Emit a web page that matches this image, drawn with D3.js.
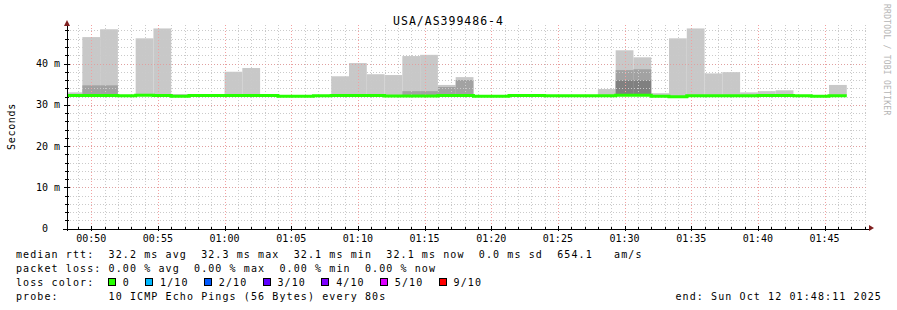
<!DOCTYPE html>
<html>
<head>
<meta charset="utf-8">
<script src="https://cdn.jsdelivr.net/npm/d3@7"></script>
<style>
  html, body { margin: 0; padding: 0; background: #fff; }
  svg { display: block; font-family: "DejaVu Sans Mono", monospace; }
  text { white-space: pre; }
</style>
</head>
<body>
<div id="chart"></div>
<script>
// ---- data ----
const chartTitle = 'USA/AS399486-4';
const startTime = '00:48:11';
const endTime   = '01:48:11';

// 80 s probe slots (start time of each slot); last slot ends at slotEnd
const slotStarts = [
  '00:48:00','00:49:20','00:50:40','00:52:00','00:53:20','00:54:40','00:56:00','00:57:20','00:58:40','01:00:00',
  '01:01:20','01:02:40','01:04:00','01:05:20','01:06:40','01:08:00','01:09:20','01:10:40','01:12:00','01:13:20',
  '01:14:40','01:16:00','01:17:20','01:18:40','01:20:00','01:21:20','01:22:40','01:24:00','01:25:20','01:26:40',
  '01:28:00','01:29:20','01:30:40','01:32:00','01:33:20','01:34:40','01:36:00','01:37:20','01:38:40','01:40:00',
  '01:41:20','01:42:40','01:44:00','01:45:20'
];
const slotEnd = '01:46:40';

// median rtt per slot (ms)
const medianMs = [
  32.25, 32.25, 32.25, 32.2, 32.3, 32.25, 32.05, 32.25, 32.25, 32.25,
  32.25, 32.25, 32.05, 32.05, 32.2, 32.25, 32.25, 32.25, 32.1, 32.1,
  32.1, 32.25, 32.25, 32.05, 32.05, 32.25, 32.25, 32.2, 32.2, 32.2,
  32.2, 32.3, 32.3, 32.05, 31.95, 32.2, 32.2, 32.2, 32.2, 32.25,
  32.25, 32.2, 32.05, 32.2
];
// smoke: outermost ping (light), second pair (mid), third pair (dark); null = hidden by median
const maxMs = [
  33.0, 46.4, 48.3, null, 46.1, 48.5, 32.6, null, null, 38.0,
  38.9, null, null, null, null, 36.9, 40.1, 37.4, 37.2, 41.8,
  42.1, 34.8, 36.7, null, null, null, null, null, null, null,
  33.8, 43.2, 41.5, 32.8, 46.1, 48.5, 37.6, 37.9, 33.0, 33.3,
  33.5, null, null, 34.8
];
const midMs = [
  null, 34.7, 34.7, null, null, null, null, null, null, null,
  null, null, null, null, null, null, null, null, null, 33.3,
  33.3, 34.3, 36.0, null, null, null, null, null, null, null,
  null, 38.4, 38.6, null, null, null, null, null, null, null,
  null, null, null, null
];
const darkMs = [
  null, null, null, null, null, null, null, null, null, null,
  null, null, null, null, null, null, null, null, null, null,
  null, null, null, null, null, null, null, null, null, null,
  null, 35.9, 35.9, null, null, null, null, null, null, null,
  null, null, null, null
];

const yTicks = [0, 10, 20, 30, 40];
const yTickLabels = ['0  ', '10 m', '20 m', '30 m', '40 m'];
const xTickLabels = ['00:50','00:55','01:00','01:05','01:10','01:15','01:20','01:25','01:30','01:35','01:40','01:45'];

const legendRtt   = 'median rtt:  32.2 ms avg  32.3 ms max  32.1 ms min  32.1 ms now  0.0 ms sd  654.1   am/s';
const legendLoss  = 'packet loss: 0.00 % avg  0.00 % max  0.00 % min  0.00 % now';
const legendColor = 'loss color:';
const legendProbe = 'probe:       10 ICMP Echo Pings (56 Bytes) every 80s';
const legendEnd   = 'end: Sun Oct 12 01:48:11 2025';
const lossLabels  = ['0', '1/10', '2/10', '3/10', '4/10', '5/10', '9/10'];
const lossColors  = ['#26ff00', '#00b8ff', '#0059ff', '#5e00ff', '#7e00ff', '#dd00ff', '#ff0000'];
const watermark   = 'RRDTOOL / TOBI OETIKER';

// ---- layout ----
const W = 897, H = 310;
const plot = { left: 67, right: 867, top: 25, bottom: 228.5 };
const smokeColors = { max: '#c8c8c8', mid: '#a2a2a2', dark: '#808080' };
const medianColor = '#26ff00';

const parseT = s => {
  const p = s.split(':').map(Number);
  return new Date(Date.UTC(2025, 9, 12, p[0], p[1], p[2] || 0));
};

const x = d3.scaleUtc()
  .domain([parseT(startTime), parseT(endTime)])
  .range([plot.left, plot.right]);

const y = d3.scaleLinear()
  .domain([0, 49.3])
  .range([plot.bottom, plot.bottom - 49.3 * 4.125]);

const slots = slotStarts.map((s, i) => ({
  t0: parseT(s),
  t1: parseT(i + 1 < slotStarts.length ? slotStarts[i + 1] : slotEnd),
  median: medianMs[i], max: maxMs[i], mid: midMs[i], dark: darkMs[i]
}));

const svg = d3.select('#chart').append('svg')
  .attr('width', W).attr('height', H);

svg.append('rect').attr('width', W).attr('height', H).attr('fill', '#fff');

svg.append('clipPath').attr('id', 'plotclip')
  .append('rect')
  .attr('x', plot.left).attr('y', plot.top)
  .attr('width', plot.right - plot.left).attr('height', plot.bottom - plot.top);

const crisp = v => Math.round(v) + 0.5;

// ---- smoke ----
const smoke = svg.append('g').attr('clip-path', 'url(#plotclip)');
['max', 'mid', 'dark'].forEach(key => {
  smoke.append('g').attr('fill', smokeColors[key])
    .selectAll('rect')
    .data(slots.filter(d => d[key] != null))
    .join('rect')
    .attr('x', d => x(d.t0))
    .attr('width', d => x(d.t1) - x(d.t0))
    .attr('y', d => y(d[key]))
    .attr('height', d => y(d.median) - y(d[key]));
});

// ---- grid ----
const grid = svg.append('g').attr('shape-rendering', 'crispEdges');
const minutes = d3.utcMinute.range(d3.utcMinute.ceil(x.domain()[0]), x.domain()[1]);
const isMajorMin = d => d.getUTCMinutes() % 5 === 0;

grid.selectAll('.vminor')
  .data(minutes.filter(d => !isMajorMin(d)))
  .join('line')
  .attr('x1', d => crisp(x(d))).attr('x2', d => crisp(x(d)))
  .attr('y1', plot.top).attr('y2', plot.bottom)
  .attr('stroke', '#cacaca').attr('stroke-dasharray', '1,2');

const yMinor = d3.range(2, 49, 2).filter(v => v % 10 !== 0);
grid.selectAll('.hminor')
  .data(yMinor)
  .join('line')
  .attr('x1', plot.left).attr('x2', plot.right)
  .attr('y1', d => crisp(y(d))).attr('y2', d => crisp(y(d)))
  .attr('stroke', '#cacaca').attr('stroke-dasharray', '1,2');

grid.selectAll('.vmajor')
  .data(minutes.filter(isMajorMin))
  .join('line')
  .attr('x1', d => crisp(x(d))).attr('x2', d => crisp(x(d)))
  .attr('y1', plot.top).attr('y2', plot.bottom)
  .attr('stroke', '#f2a0a0').attr('stroke-dasharray', '1,2');

grid.selectAll('.hmajor')
  .data(yTicks.filter(v => v > 0))
  .join('line')
  .attr('x1', plot.left).attr('x2', plot.right)
  .attr('y1', d => crisp(y(d))).attr('y2', d => crisp(y(d)))
  .attr('stroke', '#e0a0a0').attr('stroke-dasharray', '1,2');

// ---- median line ----
const stepPts = slots.map(d => [d.t0, d.median]);
stepPts.push([slots[slots.length - 1].t1, slots[slots.length - 1].median]);

svg.append('path')
  .attr('clip-path', 'url(#plotclip)')
  .datum(stepPts)
  .attr('fill', 'none')
  .attr('stroke', medianColor)
  .attr('stroke-width', 3)
  .attr('d', d3.line().x(d => x(d[0])).y(d => y(d[1])).curve(d3.curveStepAfter));

// ---- axes ----
const axes = svg.append('g').attr('shape-rendering', 'crispEdges');
axes.append('line')
  .attr('x1', plot.left - 4).attr('x2', plot.right + 2)
  .attr('y1', crisp(y(0)) - 0.5).attr('y2', crisp(y(0)) - 0.5)
  .attr('stroke', '#000');
axes.append('line')
  .attr('x1', plot.left).attr('x2', plot.left)
  .attr('y1', plot.bottom + 2).attr('y2', plot.top - 1)
  .attr('stroke', '#000');

// x ticks
axes.selectAll('.xt')
  .data(minutes)
  .join('line')
  .attr('x1', d => crisp(x(d))).attr('x2', d => crisp(x(d)))
  .attr('y1', d => isMajorMin(d) ? 226 : 227).attr('y2', d => isMajorMin(d) ? 231 : 230)
  .attr('stroke', '#000');
// y ticks
axes.selectAll('.yt')
  .data(d3.range(2, 49, 2))
  .join('line')
  .attr('x1', d => d % 10 === 0 ? 64 : 65).attr('x2', d => d % 10 === 0 ? 70 : 69)
  .attr('y1', d => crisp(y(d))).attr('y2', d => crisp(y(d)))
  .attr('stroke', '#000');

// arrows
svg.append('path')
  .attr('d', `M${plot.left - 3},${plot.top + 1} L${plot.left + 3},${plot.top + 1} L${plot.left},${plot.top - 5} Z`)
  .attr('fill', '#7f1f1f');
svg.append('path')
  .attr('d', `M${plot.right + 2},${y(0) - 3.5} L${plot.right + 2},${y(0) + 2.5} L${plot.right + 7},${y(0) - 0.5} Z`)
  .attr('fill', '#7f1f1f');

// tick labels
svg.append('g')
  .selectAll('text')
  .data(xTickLabels)
  .join('text')
  .attr('x', d => x(parseT(d)))
  .attr('y', 241.5)
  .attr('text-anchor', 'middle')
  .style('font-size', '10px').attr('fill', '#000')
  .text(d => d);

svg.append('g')
  .selectAll('text')
  .data(yTicks)
  .join('text')
  .attr('x', 60)
  .attr('y', d => y(d) + 3.6)
  .attr('text-anchor', 'end')
  .style('font-size', '10px').attr('fill', '#000')
  .text((d, i) => yTickLabels[i]);

// y axis title
svg.append('text')
  .attr('transform', 'translate(15,126.5) rotate(-90)')
  .attr('text-anchor', 'middle')
  .style('font-size', '10px').style('letter-spacing', '0.7px')
  .attr('fill', '#000')
  .text('Seconds');

// chart title
svg.append('text')
  .attr('x', 448.5).attr('y', 24.5)
  .attr('text-anchor', 'middle')
  .style('font-size', '11.5px').style('letter-spacing', '1px')
  .attr('fill', '#000')
  .text(chartTitle);

// watermark
svg.append('text')
  .attr('transform', 'translate(884,4) rotate(90)')
  .style('font-size', '8px').style('letter-spacing', '0.25px')
  .attr('fill', '#b4b4b4')
  .text(watermark);

// ---- legend ----
const leg = svg.append('g')
  .style('font-size', '10px').style('letter-spacing', '1.1px')
  .attr('fill', '#000');
const charW = 7.12;
leg.append('text').attr('x', 16).attr('y', 257.7).text(legendRtt);
leg.append('text').attr('x', 16).attr('y', 271.7).text(legendLoss);
leg.append('text').attr('x', 16).attr('y', 285.7).text(legendColor);
leg.append('text').attr('x', 16).attr('y', 299.5).text(legendProbe);
leg.append('text').attr('x', 882).attr('y', 299.5).attr('text-anchor', 'end').text(legendEnd);

let bx = 108;
lossLabels.forEach((lab, i) => {
  leg.append('rect')
    .attr('x', bx + 0.5).attr('y', 278.5)
    .attr('width', 7).attr('height', 7)
    .attr('fill', lossColors[i]).attr('stroke', '#000').attr('stroke-width', 1)
    .attr('shape-rendering', 'crispEdges');
  const lx = bx + 14.8;
  leg.append('text').attr('x', lx).attr('y', 285.7).text(lab);
  bx = lx + lab.length * charW + 15.4;
});
</script>
</body>
</html>
